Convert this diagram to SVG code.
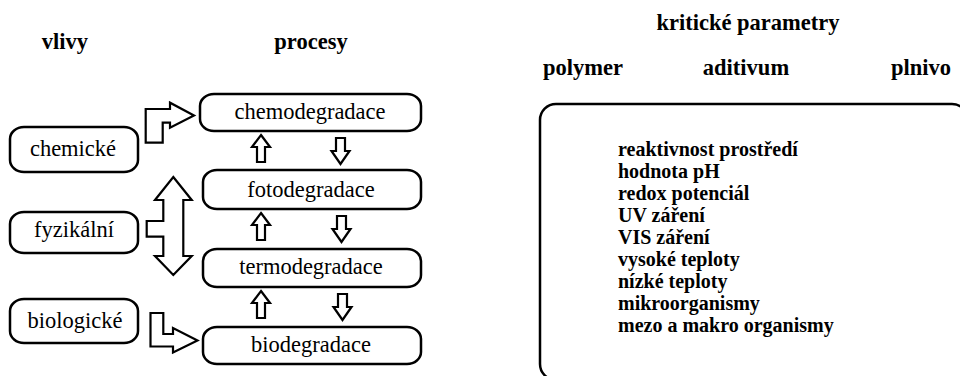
<svg xmlns="http://www.w3.org/2000/svg" width="960" height="376" viewBox="0 0 960 376">
<style>
.box{fill:#fff;stroke:#000;stroke-width:2.5}
.arr{fill:#fff;stroke:#000;stroke-width:2.2;stroke-linejoin:miter}
.t{font-size:22.5px;fill:#000;text-anchor:middle}
.h{font-size:22.5px;font-weight:bold;fill:#000;text-anchor:middle}
.l{font-size:20px;font-weight:bold;fill:#000}
</style>
<rect width="960" height="376" fill="#fff"/>
<g font-family="Liberation Serif, Noto Serif, DejaVu Serif, Times New Roman, Times, serif">
<g id="headers">
<text class="h" x="65" y="49">vlivy</text>
<text class="h" x="311" y="49">procesy</text>
<text class="h" x="748" y="30">kritické parametry</text>
<text class="h" x="583" y="75">polymer</text>
<text class="h" x="746" y="75">aditivum</text>
<text class="h" x="921" y="75">plnivo</text>
</g>

<g id="chemicke"><rect class="box" x="10" y="127" width="128" height="45" rx="14" ry="12"/><text class="t" x="73" y="156">chemické</text></g>
<g id="fyzikalni"><rect class="box" x="10" y="212" width="128" height="41" rx="14" ry="12"/><text class="t" x="74" y="237">fyzikální</text></g>
<g id="biologicke"><rect class="box" x="10" y="299" width="128" height="44" rx="14" ry="12"/><text class="t" x="75" y="328">biologické</text></g>

<g id="chemodegradace"><rect class="box" x="200" y="94" width="221" height="37" rx="14" ry="12"/><text class="t" x="310" y="119">chemodegradace</text></g>
<g id="fotodegradace"><rect class="box" x="203" y="170" width="218" height="39" rx="14" ry="12"/><text class="t" x="311" y="197">fotodegradace</text></g>
<g id="termodegradace"><rect class="box" x="203" y="249" width="218" height="38" rx="14" ry="12"/><text class="t" x="311" y="274">termodegradace</text></g>
<g id="biodegradace"><rect class="box" x="203" y="327" width="218" height="37" rx="14" ry="12"/><text class="t" x="311" y="352">biodegradace</text></g>

<g id="parametry">
<rect class="box" x="540" y="104" width="428" height="276" rx="16" ry="16"/>
<text class="l" x="618" y="156">reaktivnost prostředí</text>
<text class="l" x="618" y="178">hodnota pH</text>
<text class="l" x="618" y="200">redox potenciál</text>
<text class="l" x="618" y="222">UV záření</text>
<text class="l" x="618" y="244">VIS záření</text>
<text class="l" x="618" y="266">vysoké teploty</text>
<text class="l" x="618" y="288">nízké teploty</text>
<text class="l" x="618" y="310">mikroorganismy</text>
<text class="l" x="618" y="332">mezo a makro organismy</text>
</g>
</g>
<g id="connectors">
<path class="arr" d="M145.7,142.7 L145.7,109 L170,109 L170,102.7 L194,115.5 L170,127.8 L170,122.7 L162.7,122.7 L162.7,142.7 Z"/>
<path class="arr" d="M173.3,177 L191.7,200 L183.3,200 L183.3,256 L191.7,256 L173.3,275 L155,256 L163.3,256 L163.3,236.7 L146.7,236.7 L146.7,221 L163.3,221 L163.3,200 L155,200 Z"/>
<path class="arr" d="M150.5,313 L163.3,313 L163.3,334 L173,334 L173,328 L197.5,340.5 L173,352.5 L173,346.5 L150.5,346.5 Z"/>

<path class="arr" d="M261,135 L270,147 L265,147 L265,162 L257,162 L257,147 L252,147 Z"/>
<path class="arr" d="M336,138 L345,138 L345,151 L349.5,151 L340.5,164 L331.5,151 L336,151 Z"/>
<path class="arr" d="M261,213 L270,225 L265,225 L265,240 L257,240 L257,225 L252,225 Z"/>
<path class="arr" d="M337,216 L346,216 L346,229 L350.5,229 L341.5,242 L332.5,229 L337,229 Z"/>
<path class="arr" d="M261,291 L270,303 L265,303 L265,318 L257,318 L257,303 L252,303 Z"/>
<path class="arr" d="M338,294 L347,294 L347,307 L351.5,307 L342.5,320 L333.5,307 L338,307 Z"/>
</g>
</svg>
